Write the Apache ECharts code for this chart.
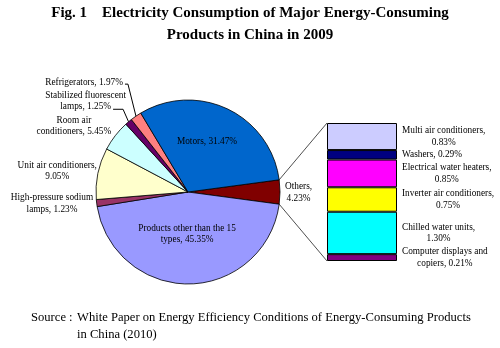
<!DOCTYPE html>
<html>
<head>
<meta charset="utf-8">
<script src="https://cdn.jsdelivr.net/npm/echarts@6/dist/echarts.min.js"></script>
<style>
  html, body { margin: 0; padding: 0; background: #ffffff; }
  #chart { width: 500px; height: 348px; }
</style>
</head>
<body>
<div id="chart"></div>
<script>
// Main pie: share of electricity consumption (%), clockwise from "Others"
var pieNames = [
  'Others',
  'Products other than the 15 types',
  'High-pressure sodium lamps',
  'Unit air conditioners',
  'Room air conditioners',
  'Stabilized fluorescent lamps',
  'Refrigerators',
  'Motors'
];
var pieValues = [4.23, 45.35, 1.23, 9.05, 5.45, 1.25, 1.97, 31.47];

// Breakdown of "Others" (%), listed top to bottom in the stacked column
var otherNames = [
  'Multi air conditioners',
  'Washers',
  'Electrical water heaters',
  'Inverter air conditioners',
  'Chilled water units',
  'Computer displays and copiers'
];
var otherValues = [0.83, 0.29, 0.85, 0.75, 1.30, 0.21];

var titleText = 'Fig. 1    Electricity Consumption of Major Energy-Consuming\nProducts in China in 2009';
var sourceHead = 'Source :';
var sourceBody = 'White Paper on Energy Efficiency Conditions of Energy-Consuming Products\nin China (2010)';

// ---- styling ----
var pieColors = {
  'Others': '#800000',
  'Products other than the 15 types': '#9999ff',
  'High-pressure sodium lamps': '#993366',
  'Unit air conditioners': '#ffffcc',
  'Room air conditioners': '#ccffff',
  'Stabilized fluorescent lamps': '#660066',
  'Refrigerators': '#ff8080',
  'Motors': '#0066cc'
};
var barColors = {
  'Multi air conditioners': '#ccccff',
  'Washers': '#000080',
  'Electrical water heaters': '#ff00ff',
  'Inverter air conditioners': '#ffff00',
  'Chilled water units': '#00ffff',
  'Computer displays and copiers': '#800080'
};

// how each label text wraps
var labelWrap = {
  'Others': ['Others,', '{v}'],
  'Products other than the 15 types': ['Products other than the 15', 'types, {v}'],
  'High-pressure sodium lamps': ['High-pressure sodium', 'lamps, {v}'],
  'Unit air conditioners': ['Unit air conditioners,', '{v}'],
  'Room air conditioners': ['Room air', 'conditioners, {v}'],
  'Stabilized fluorescent lamps': ['Stabilized fluorescent', 'lamps, {v}'],
  'Refrigerators': ['Refrigerators, {v}'],
  'Motors': ['Motors, {v}'],
  'Multi air conditioners': ['Multi air conditioners,', '{v}'],
  'Washers': ['Washers, {v}'],
  'Electrical water heaters': ['Electrical water heaters,', '{v}'],
  'Inverter air conditioners': ['Inverter air conditioners,', '{v}'],
  'Chilled water units': ['Chilled water units,', '{v}'],
  'Computer displays and copiers': ['Computer displays and', 'copiers, {v}']
};
function labelLines(name, value) {
  return labelWrap[name].map(function (s) { return s.replace('{v}', value.toFixed(2) + '%'); });
}

var SERIF = '"Liberation Serif", "Times New Roman", serif';
var LABEL_SIZE = 9.3;
var LABEL_LH = 11.5;

// pie geometry
var CX = 188, CY = 192, R = 92;
var pieTotal = pieValues.reduce(function (a, b) { return a + b; }, 0);
var startAngle = pieValues[0] / pieTotal * 360 / 2;   // "Others" centred on 3 o'clock
var midAngles = [];
(function () {
  var a = startAngle;
  pieValues.forEach(function (v) {
    var span = v / pieTotal * 360;
    midAngles.push(a - span / 2);
    a -= span;
  });
})();
function edgePoint(deg, r) {
  var t = deg * Math.PI / 180;
  return [CX + r * Math.cos(t), CY - r * Math.sin(t)];
}

// label placement around the pie (offsets from the slice edge / inner point)
var piePlace = {
  'Others': { side: 'right', dx: 5, dy: 0.5 },
  'Products other than the 15 types': { side: 'inside', dx: -1.5, dy: -4 },
  'High-pressure sodium lamps': { side: 'left', dx: -3.5, dy: 0.5 },
  'Unit air conditioners': { side: 'left', dx: -1, dy: -2.5 },
  'Room air conditioners': { side: 'left', dx: -4, dy: -9.5 },
  'Stabilized fluorescent lamps': { side: 'left', dx: -2.5, dy: -20.5, elbow: [-5.5, -12.5] },
  'Refrigerators': { side: 'left', dx: -13, dy: -33.5, elbow: [-8, -32] },
  'Motors': { side: 'inside', dx: -1, dy: -9.5 }
};

var measureCtx = document.createElement('canvas').getContext('2d');
measureCtx.font = LABEL_SIZE + 'px ' + SERIF;
function textWidth(s) { return measureCtx.measureText(s).width; }

// stacked column (bottom item first in stack order)
var GRID = { left: 327, top: 123, width: 70, height: 138 };
var barTotal = otherValues.reduce(function (a, b) { return a + b; }, 0);

var barSeries = [];
for (var k = otherNames.length - 1; k >= 0; k--) {
  (function (name, value) {
    barSeries.push({
      type: 'bar',
      name: name,
      stack: 'others',
      barWidth: '100%',
      silent: true,
      data: [value],
      itemStyle: { color: barColors[name], borderColor: '#000', borderWidth: 1 },
      label: {
        show: true,
        position: 'right',
        color: '#000',
        fontFamily: SERIF,
        fontSize: LABEL_SIZE,
        lineHeight: LABEL_LH,
        formatter: function () { return labelLines(name, value).join('\n'); }
      },
      labelLayout: function (p) {
        return {
          x: p.rect.x + p.rect.width + 5 + p.labelRect.width / 2,
          y: p.rect.y + p.rect.height / 2,
          align: 'center',
          verticalAlign: 'middle'
        };
      },
      animation: false
    });
  })(otherNames[k], otherValues[k]);
}

var pieData = pieNames.map(function (name, i) {
  var place = piePlace[name];
  var item = {
    name: name,
    value: pieValues[i],
    itemStyle: { color: pieColors[name] },
    label: { position: place.side === 'inside' ? 'inside' : 'outside' }
  };
  if (place.elbow) item.labelLine = { show: true };
  return item;
});

var chart = echarts.init(document.getElementById('chart'), null, { renderer: 'canvas' });

var option = {
  backgroundColor: '#ffffff',
  animation: false,
  title: [
    {
      text: titleText,
      left: 'center',
      top: 2,
      padding: 0,
      textStyle: { fontFamily: SERIF, fontWeight: 'bold', fontSize: 15, lineHeight: 22, color: '#000' }
    },
    {
      text: sourceHead,
      left: 31,
      top: 309.5,
      padding: 0,
      textStyle: { fontFamily: SERIF, fontWeight: 'normal', fontSize: 12.6, lineHeight: 17, color: '#000' }
    },
    {
      text: sourceBody,
      left: 77,
      top: 309.5,
      padding: 0,
      textStyle: { fontFamily: SERIF, fontWeight: 'normal', fontSize: 12.6, lineHeight: 17, color: '#000' }
    }
  ],
  grid: { left: GRID.left, top: GRID.top, width: GRID.width, height: GRID.height, containLabel: false },
  xAxis: { type: 'category', data: ['Others'], show: false },
  yAxis: { type: 'value', min: 0, max: barTotal, show: false },
  series: [
    {
      type: 'pie',
      center: [CX, CY],
      radius: R,
      startAngle: startAngle,
      clockwise: true,
      avoidLabelOverlap: false,
      silent: true,
      data: pieData,
      itemStyle: { borderColor: '#000', borderWidth: 0.8 },
      label: {
        show: true,
        color: '#000',
        fontFamily: SERIF,
        fontSize: LABEL_SIZE,
        lineHeight: LABEL_LH,
        formatter: function (p) { return labelLines(p.name, p.value).join('\n'); }
      },
      labelLine: { show: false, lineStyle: { color: '#000', width: 1 } },
      labelLayout: function (p) {
        var name = pieNames[p.dataIndex];
        var place = piePlace[name];
        var mid = midAngles[p.dataIndex];
        var w = p.labelRect.width;
        var x, y, base;
        if (place.side === 'inside') {
          base = edgePoint(mid, R / 2);
          x = base[0] + place.dx;
          y = base[1] + place.dy;
        } else {
          base = edgePoint(mid, R);
          if (place.side === 'left') x = base[0] + place.dx - w / 2;
          else x = base[0] + place.dx + w / 2;
          y = base[1] + place.dy;
        }
        var out = { x: x, y: y, align: 'center', verticalAlign: 'middle' };
        if (place.elbow) {
          var lines = labelLines(name, pieValues[p.dataIndex]);
          var last = lines[lines.length - 1];
          var elbow = [base[0] + place.elbow[0], base[1] + place.elbow[1]];
          var endX = x + textWidth(last) / 2 + 2;
          out.labelLinePoints = [base, elbow, [endX, elbow[1]]];
        }
        return out;
      }
    }
  ].concat(barSeries)
};

chart.setOption(option);

// connector lines from the "Others" slice to the stacked column
var p1 = edgePoint(startAngle, R);
var p2 = edgePoint(-startAngle, R);
var colLeft = chart.convertToPixel({ xAxisIndex: 0 }, 0) - GRID.width / 2;
var colTop = chart.convertToPixel({ yAxisIndex: 0 }, barTotal);
var colBottom = chart.convertToPixel({ yAxisIndex: 0 }, 0);
chart.setOption({
  graphic: [
    { type: 'line', silent: true, shape: { x1: p1[0], y1: p1[1], x2: colLeft, y2: colTop }, style: { stroke: '#222', lineWidth: 0.8 } },
    { type: 'line', silent: true, shape: { x1: p2[0], y1: p2[1], x2: colLeft, y2: colBottom }, style: { stroke: '#222', lineWidth: 0.8 } }
  ]
});
</script>
</body>
</html>
